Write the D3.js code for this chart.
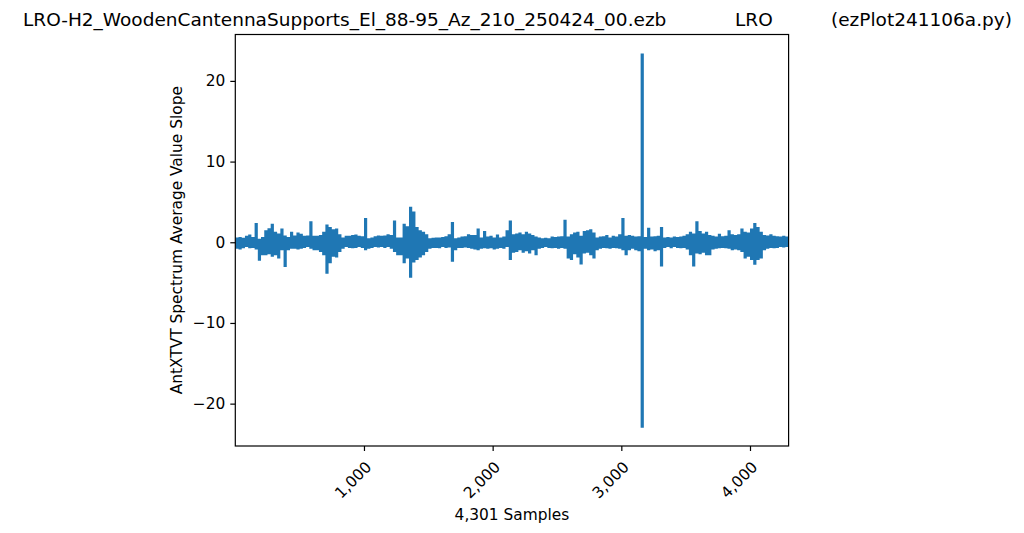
<!DOCTYPE html>
<html>
<head>
<meta charset="utf-8">
<script src="https://cdn.jsdelivr.net/npm/d3@7"></script>
<style>
  html, body { margin: 0; padding: 0; background: #fff; }
  svg { display: block; font-family: "DejaVu Sans", sans-serif; }
</style>
</head>
<body>
<svg id="chart" width="1024" height="533"></svg>
<script>
// ---- data ----
const titleParts = ["LRO-H2_WoodenCantennaSupports_El_88-95_Az_210_250424_00.ezb", "LRO", "(ezPlot241106a.py)"];
const xLabel = "4,301 Samples";
const yLabel = "AntXTVT Spectrum Average Value Slope";
const sampleCount = 4301;
const blockSize = 25; // samples per envelope block
const xTicks = [1000, 2000, 3000, 4000];
const yTicks = [-20, -10, 0, 10, 20];

// upper values per block of samples
const hiVals = [
  0.6, 0.65, 0.55, 0.8, 0.95, 0.65, 2.4, 0.45, 0.65, 1.5,
  1.75, 2.3, 1.3, 1.1, 1.7, 0.85, 0.65, 1.3, 0.85, 1.2,
  1.05, 0.8, 0.85, 2.6, 0.8, 0.8, 0.9, 1.3, 2.2, 1.9,
  1.6, 1.7, 1.0, 0.6, 0.8, 0.8, 0.9, 0.95, 0.8, 0.75,
  3.0, 0.5, 0.6, 0.75, 0.85, 0.8, 0.85, 1.0, 0.9, 2.7,
  0.6, 0.6, 2.3, 2.0, 4.4, 3.8, 1.9, 1.5, 1.3, 1.0,
  0.5, 0.55, 0.6, 0.6, 0.65, 0.75, 1.0, 2.5, 0.5, 0.6,
  0.7, 0.75, 1.0, 0.9, 0.9, 1.7, 0.6, 1.4, 0.7, 0.8,
  0.6, 0.95, 0.6, 0.7, 1.5, 2.7, 1.0, 1.1, 1.2, 1.0,
  1.3, 1.1, 0.9, 0.7, 0.6, 0.5, 0.55, 0.5, 0.7, 0.65,
  0.7, 0.75, 2.8, 0.7, 1.0, 1.2, 1.3, 0.8, 1.4, 1.5,
  1.6, 1.2, 0.6, 0.7, 0.75, 0.9, 0.6, 0.8, 0.7, 1.0,
  3.0, 0.8, 0.9, 0.8, 0.7, 0.75, 23.4, 0.65, 1.8, 0.7,
  0.75, 0.8, 1.9, 0.6, 0.65, 0.6, 0.7, 0.65, 0.7, 0.8,
  1.0, 1.3, 1.1, 2.6, 1.4, 1.1, 1.3, 0.9, 0.8, 0.7,
  1.05, 0.75, 0.8, 1.5, 1.0, 0.9, 1.0, 1.7, 1.3, 1.2,
  1.7, 2.4, 1.9, 1.3, 0.9, 0.85, 1.0, 0.8, 0.75, 0.7,
  0.8, 0.7
];
// lower values per block of samples
const loVals = [
  -0.8, -0.9, -0.75, -0.6, -0.75, -0.7, -0.9, -2.3, -1.6, -1.6,
  -1.5, -1.8, -1.6, -2.0, -1.0, -3.05, -1.0, -0.8, -0.8, -0.9,
  -0.8, -0.7, -0.6, -0.8, -1.0, -1.0, -1.2, -1.6, -3.9, -2.6,
  -1.8, -1.9, -1.2, -0.8, -0.6, -0.7, -0.75, -0.7, -0.6, -0.7,
  -1.0, -0.8, -0.7, -0.6, -0.65, -0.6, -0.7, -0.6, -0.8, -1.2,
  -1.6, -1.6, -2.6, -2.0, -4.4, -2.5, -2.2, -1.9, -1.6, -1.2,
  -0.8, -0.7, -0.7, -0.75, -0.6, -0.7, -0.65, -2.4, -1.0, -0.7,
  -0.7, -0.65, -0.7, -0.8, -0.9, -1.0, -0.8, -0.75, -0.8, -0.75,
  -0.9, -0.8, -0.7, -0.8, -0.6, -2.2, -1.3, -1.2, -1.0, -1.3,
  -1.1, -1.4, -1.0, -1.6, -0.8, -0.7, -0.6, -0.7, -0.75, -0.7,
  -0.8, -0.7, -0.8, -2.0, -2.2, -1.5, -1.9, -2.75, -1.4, -1.3,
  -1.6, -2.0, -1.0, -0.8, -0.7, -0.75, -0.8, -0.7, -0.75, -0.8,
  -1.0, -1.6, -1.0, -0.8, -1.0, -1.1, -23.0, -0.8, -1.0, -0.9,
  -1.1, -1.0, -3.0, -0.7, -0.6, -0.75, -0.6, -0.7, -0.75, -0.7,
  -0.9, -1.6, -3.0, -1.4, -1.5, -1.3, -1.6, -1.6, -0.9, -0.8,
  -0.75, -0.7, -0.75, -0.8, -1.0, -0.9, -1.0, -1.2, -2.0, -1.8,
  -2.2, -2.8, -2.2, -2.0, -1.0, -0.8, -0.7, -0.75, -0.7, -0.6,
  -0.65, -0.6
];

// ---- layout ----
const plot = { left: 235.3, right: 788.6, top: 34.5, bottom: 446 };
const svg = d3.select("#chart");
const blue = "#1f77b4";
const tickFont = "15.4px";

const x = d3.scaleLinear().domain([0, sampleCount - 1]).range([plot.left, plot.right]);
const y = d3.scaleLinear().domain([-25.25, 25.75]).range([plot.bottom, plot.top]);

// envelope of the dense trace: each block spans its sample range
const env = [];
hiVals.forEach((h, i) => {
  const s0 = i * blockSize;
  const s1 = Math.min((i + 1) * blockSize, sampleCount - 1);
  env.push({ s: s0, hi: h, lo: loVals[i] });
  env.push({ s: s1, hi: h, lo: loVals[i] });
});

svg.append("defs").append("clipPath").attr("id", "clip")
  .append("rect")
  .attr("x", plot.left).attr("y", plot.top)
  .attr("width", plot.right - plot.left).attr("height", plot.bottom - plot.top);

svg.append("path")
  .datum(env)
  .attr("clip-path", "url(#clip)")
  .attr("fill", blue)
  .attr("stroke", "none")
  .attr("d", d3.area().x(d => x(d.s)).y0(d => y(d.lo)).y1(d => y(d.hi)));

// axes
const xAxis = svg.append("g")
  .attr("transform", `translate(0,${plot.bottom})`)
  .call(d3.axisBottom(x).tickValues(xTicks).tickSize(5).tickFormat(d3.format(",")));
xAxis.select(".domain").remove();
xAxis.selectAll(".tick line").attr("stroke", "#000").attr("stroke-width", 1.2);
xAxis.selectAll(".tick text")
  .attr("fill", "#000")
  .style("font-size", tickFont)
  .style("font-family", "DejaVu Sans")
  .attr("text-anchor", "end")
  .attr("dy", null)
  .attr("y", null)
  .attr("transform", "translate(8,22) rotate(-45)");

const yAxis = svg.append("g")
  .attr("transform", `translate(${plot.left},0)`)
  .call(d3.axisLeft(y).tickValues(yTicks).tickSize(5).tickPadding(5));
yAxis.select(".domain").remove();
yAxis.selectAll(".tick line").attr("stroke", "#000").attr("stroke-width", 1.2);
yAxis.selectAll(".tick text")
  .attr("fill", "#000")
  .style("font-size", tickFont)
  .style("font-family", "DejaVu Sans");

// frame
svg.append("rect")
  .attr("x", plot.left).attr("y", plot.top)
  .attr("width", plot.right - plot.left).attr("height", plot.bottom - plot.top)
  .attr("fill", "none").attr("stroke", "#000").attr("stroke-width", 1.2);

// labels
svg.append("text")
  .attr("x", (plot.left + plot.right) / 2).attr("y", 520)
  .attr("text-anchor", "middle")
  .style("font-size", tickFont)
  .text(xLabel);

svg.append("text")
  .attr("transform", `translate(182,${(plot.top + plot.bottom) / 2}) rotate(-90)`)
  .attr("text-anchor", "middle")
  .style("font-size", tickFont)
  .text(yLabel);

const title = svg.append("text")
  .attr("y", 26)
  .style("font-size", "18.5px");
const titleX = [23, 735, 831];
title.selectAll("tspan").data(titleParts).join("tspan")
  .attr("x", (d, i) => titleX[i])
  .text(d => d);
</script>
</body>
</html>
